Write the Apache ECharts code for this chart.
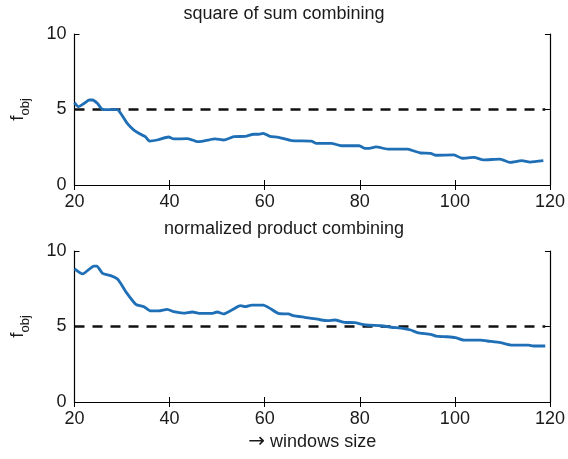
<!DOCTYPE html>
<html>
<head>
<meta charset="utf-8">
<script src="https://cdn.jsdelivr.net/npm/echarts@6/dist/echarts.min.js"></script>
<style>html,body{margin:0;padding:0;background:#fff}#c{width:568px;height:459px}</style>
</head>
<body>
<div id="c"></div>
<script>
var titleTop = 'square of sum combining';
var titleBottom = 'normalized product combining';
var xNameArrow = '\u2192';
var xNameText = ' windows size';
var xTicks = [20, 40, 60, 80, 100, 120];
var yTicks = [0, 5, 10];

var topX = [20, 20.8, 22, 23.1, 23.8, 24.8, 25.9, 27.2, 29, 29.7, 31.1, 32.5, 34.2, 34.9, 35.8, 37.4, 39.8, 40.9, 43.7, 44.8, 45.8, 47.5, 49.6, 51.4, 53.5, 55.9, 57.7, 58.7, 59.7, 61.1, 62.9, 65.7, 69.8, 70.9, 74, 76.1, 79.9, 81, 82, 83.4, 85.9, 90, 91.4, 92.8, 94.9, 96, 99.8, 101.5, 104, 106, 109.5, 111.6, 114.1, 115.8, 118.6];
var topY = [5.45, 5.19, 5.4, 5.63, 5.63, 5.41, 5.01, 4.99, 4.99, 4.75, 4.08, 3.64, 3.31, 3.2, 2.91, 2.98, 3.18, 3.05, 3.07, 2.98, 2.87, 2.94, 3.05, 2.98, 3.2, 3.22, 3.36, 3.36, 3.42, 3.22, 3.16, 2.94, 2.91, 2.76, 2.76, 2.6, 2.6, 2.43, 2.43, 2.52, 2.38, 2.38, 2.25, 2.12, 2.1, 1.97, 1.99, 1.77, 1.83, 1.66, 1.72, 1.5, 1.61, 1.52, 1.61];

var botX = [20, 21.7, 24.1, 24.7, 25.9, 27.6, 29, 29.7, 30.8, 32.9, 34.6, 36, 37.7, 39.5, 40.9, 42.9, 44.8, 46.2, 49, 50, 51.4, 53.1, 54.9, 55.9, 57.3, 59.7, 61.1, 62.9, 65, 66, 68.4, 70.9, 71.9, 73.3, 74.7, 76.8, 78.9, 81.3, 84.5, 86.6, 89, 90.7, 92.1, 94.9, 96, 98.4, 100.1, 101.9, 105.4, 106.8, 109.6, 112, 115.5, 116.5, 119];
var botY = [8.81, 8.48, 9.0, 9.0, 8.52, 8.37, 8.15, 7.86, 7.3, 6.47, 6.31, 6.03, 6.03, 6.14, 5.98, 5.89, 5.96, 5.87, 5.87, 5.96, 5.83, 6.09, 6.38, 6.31, 6.42, 6.42, 6.2, 5.87, 5.83, 5.72, 5.61, 5.5, 5.43, 5.39, 5.43, 5.28, 5.25, 5.1, 5.05, 4.95, 4.88, 4.77, 4.6, 4.48, 4.37, 4.32, 4.26, 4.1, 4.1, 4.04, 3.93, 3.77, 3.77, 3.71, 3.71];

var refX = [20, 119];
var refY = [5, 5];

function pairs(xs, ys) { return xs.map(function (x, i) { return [x, ys[i]]; }); }

var FONT = 'Liberation Sans, Arial, sans-serif';
var TXT = '#1a1a1a';
var BLUE = '#1f6fb6';
var FS = 18;

function xAxes(gi, withName) {
  var base = {
    type: 'value', gridIndex: gi, min: xTicks[0], max: xTicks[xTicks.length - 1], interval: 20,
    splitLine: { show: false },
    axisLine: { show: true, lineStyle: { color: '#000', width: 1.2 } },
    axisTick: { show: true, inside: true, length: 5, lineStyle: { color: '#000' } }
  };
  var bottom = Object.assign({}, base, {
    position: 'bottom',
    axisLabel: { color: TXT, fontSize: FS, fontFamily: FONT, margin: 8 }
  });
  if (withName) {
    bottom.name = '{arr|' + xNameArrow + '}{t|' + xNameText + '}';
    bottom.nameLocation = 'middle';
    bottom.nameGap = 30;
    bottom.nameTextStyle = {
      color: TXT, fontSize: FS, fontFamily: FONT,
      rich: {
        arr: { fontSize: 20, fontFamily: 'DejaVu Sans', color: TXT },
        t: { fontSize: FS, fontFamily: FONT, color: TXT }
      }
    };
  }
  var top = Object.assign({}, base, { position: 'top', axisLabel: { show: false } });
  return [bottom, top];
}
function yAxes(gi) {
  var base = {
    type: 'value', gridIndex: gi, min: yTicks[0], max: yTicks[yTicks.length - 1], interval: 5,
    splitLine: { show: false },
    axisLine: { show: true, lineStyle: { color: '#000', width: 1.2 } },
    axisTick: { show: true, inside: true, length: 5, lineStyle: { color: '#000' } }
  };
  var left = Object.assign({}, base, {
    position: 'left',
    axisLabel: { color: TXT, fontSize: FS, fontFamily: FONT, margin: 8 },
    name: '{a|f}{b|obj}',
    nameLocation: 'middle',
    nameGap: 43,
    nameRotate: 90,
    nameTextStyle: {
      color: TXT, fontFamily: FONT,
      rich: {
        a: { fontSize: 19, fontFamily: FONT, color: TXT, lineHeight: 28, verticalAlign: 'middle' },
        b: { fontSize: 13, fontFamily: FONT, color: TXT, lineHeight: 28, verticalAlign: 'bottom', padding: [10, 0, 0, 0] }
      }
    }
  });
  var right = Object.assign({}, base, { position: 'right', axisLabel: { show: false } });
  return [left, right];
}

var chart = echarts.init(document.getElementById('c'), null, { renderer: 'canvas' });
var xa = xAxes(0, false).concat(xAxes(1, true));
var ya = yAxes(0).concat(yAxes(1));

function lineSeries(xi, yi, data) {
  return {
    type: 'line', xAxisIndex: xi, yAxisIndex: yi, data: data, showSymbol: false, symbol: 'none',
    smooth: 0.2, lineStyle: { color: BLUE, width: 2.8 }, animation: false, z: 3
  };
}
function refSeries(xi, yi) {
  return {
    type: 'line', xAxisIndex: xi, yAxisIndex: yi, data: pairs(refX, refY), showSymbol: false, symbol: 'none',
    lineStyle: { color: '#111', width: 2.6, type: [10, 8] }, animation: false, z: 2
  };
}

chart.setOption({
  backgroundColor: '#fff',
  animation: false,
  title: [
    { text: titleTop, left: 'center', top: 0, textStyle: { color: TXT, fontSize: FS, fontWeight: 'normal', fontFamily: FONT } },
    { text: titleBottom, left: 'center', top: 215, textStyle: { color: TXT, fontSize: FS, fontWeight: 'normal', fontFamily: FONT } }
  ],
  grid: [
    { left: 71.5, right: 18, top: 34, height: 151 },
    { left: 71.5, right: 18, top: 251, height: 151 }
  ],
  xAxis: xa,
  yAxis: ya,
  series: [
    refSeries(0, 0),
    lineSeries(0, 0, pairs(topX, topY)),
    refSeries(2, 2),
    lineSeries(2, 2, pairs(botX, botY))
  ]
});
</script>
</body>
</html>
